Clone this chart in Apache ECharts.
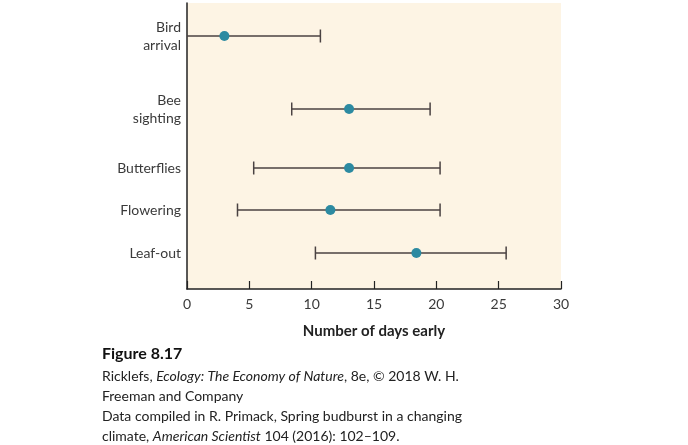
<!DOCTYPE html>
<html>
<head>
<meta charset="utf-8">
<script src="https://cdn.jsdelivr.net/npm/echarts@6/dist/echarts.min.js"></script>
<style>
  html, body { margin: 0; padding: 0; background: #fff; }
  #main { width: 688px; height: 445px; }
</style>
</head>
<body>
<div id="main"></div>
<script>
// 各类物候事件（天数提前）
var categories = ['Bird\narrival', 'Bee\nsighting', 'Butterflies', 'Flowering', 'Leaf-out'];
var means = [3.0, 13.0, 13.0, 11.5, 18.4];
var lows = [0, 8.4, 5.35, 4.05, 10.3];
var highs = [10.7, 19.5, 20.3, 20.3, 25.6];
// 行的位置（纵轴刻度，0 在顶部）
var rowPos = [33, 106, 165, 207, 250];
var xTicks = [0, 5, 10, 15, 20, 25, 30];

var font = 'Lato, "Open Sans", sans-serif';
var lineColor = '#4a4242';
var dotColor = '#2c8aa1';

var barData = [];
var dotData = [];
for (var i = 0; i < categories.length; i++) {
    barData.push([lows[i], highs[i], rowPos[i]]);
    dotData.push([means[i], rowPos[i]]);
}

var chart = echarts.init(document.getElementById('main'));
var opt = {
    animation: false,
    grid: {
        show: true,
        left: 187,
        right: 127,
        top: 3,
        bottom: 156,
        backgroundColor: '#fdf4e4',
        borderWidth: 0
    },
    xAxis: {
        type: 'value',
        position: 'bottom',
        min: xTicks[0],
        max: xTicks[xTicks.length - 1],
        interval: 5,
        splitLine: { show: false },
        axisLine: { show: true, onZero: false, lineStyle: { color: '#222', width: 1.5 } },
        axisTick: { show: true, inside: true, length: 8, lineStyle: { color: '#222', width: 1.2 } },
        axisLabel: { color: '#3a3a3a', fontSize: 14, fontFamily: font, margin: 8 },
        name: 'Number of days early',
        nameLocation: 'middle',
        nameGap: 35,
        nameTextStyle: { color: '#222', fontSize: 15, fontWeight: 'bold', fontFamily: font }
    },
    yAxis: {
        type: 'value',
        inverse: true,
        min: 0,
        max: 286,
        splitLine: { show: false },
        axisLine: { show: true, onZero: false, lineStyle: { color: '#222', width: 1.5 } },
        axisTick: { show: false },
        axisLabel: {
            customValues: rowPos,
            color: '#3a3a3a',
            fontSize: 14,
            lineHeight: 18,
            fontFamily: font,
            align: 'right',
            margin: 6,
            padding: [4, 0, 0, 0],
            formatter: function (v) {
                var k = rowPos.indexOf(v);
                return k >= 0 ? categories[k] : '';
            }
        }
    },
    series: [{
        type: 'custom',
        data: barData,
        renderItem: function (params, api) {
            var p1 = api.coord([api.value(0), api.value(2)]);
            var p2 = api.coord([api.value(1), api.value(2)]);
            var h = 6.5;
            var st = { stroke: lineColor, lineWidth: 1.5 };
            var kids = [
                { type: 'line', shape: { x1: p1[0], y1: p1[1], x2: p2[0], y2: p2[1] }, style: st },
                { type: 'line', shape: { x1: p2[0], y1: p2[1] - h, x2: p2[0], y2: p2[1] + h }, style: st }
            ];
            if (api.value(0) > 0) {
                kids.push({ type: 'line', shape: { x1: p1[0], y1: p1[1] - h, x2: p1[0], y2: p1[1] + h }, style: st });
            }
            return { type: 'group', children: kids };
        },
        z: 2
    }, {
        type: 'scatter',
        data: dotData,
        symbol: 'circle',
        symbolSize: 10,
        itemStyle: { color: dotColor, opacity: 1 },
        z: 3
    }],
    graphic: [{
        type: 'text',
        left: 102,
        top: 346,
        style: {
            text: 'Figure 8.17',
            font: 'bold 16px ' + font,
            fill: '#111'
        }
    }, {
        type: 'text',
        left: 102,
        top: 366,
        style: {
            text: 'Ricklefs, {i|Ecology: The Economy of Nature}, 8e, \u00a9 2018 W. H.\nFreeman and Company\nData compiled in R. Primack, Spring budburst in a changing\nclimate, {i|American Scientist} 104 (2016): 102\u2013109.',
            font: '14px ' + font,
            fill: '#222',
            lineHeight: 20,
            rich: {
                i: { fontStyle: 'italic', fontSize: 14, fontFamily: font, fill: '#222', lineHeight: 20 }
            }
        }
    }]
};
chart.setOption(opt);
</script>
</body>
</html>
